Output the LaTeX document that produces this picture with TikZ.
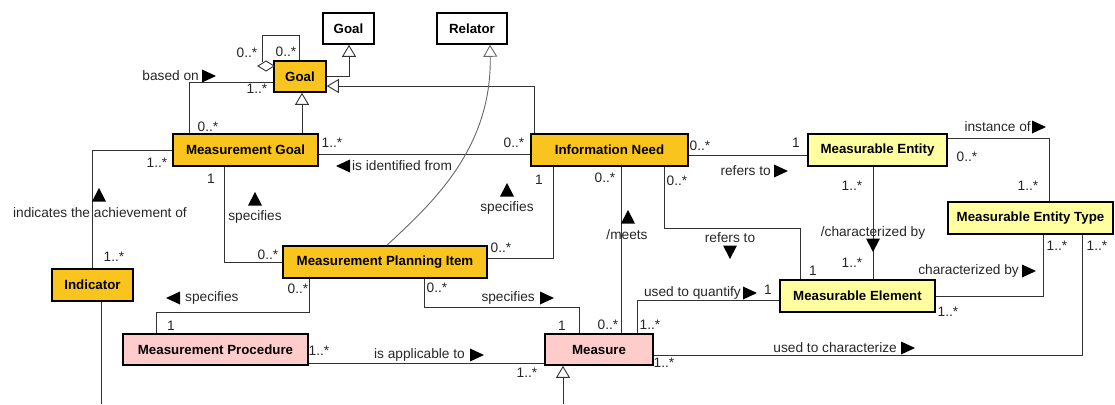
\documentclass[tikz,border=0pt]{standalone}
\usepackage{fontspec}
\setmainfont{Liberation Sans}
\usetikzlibrary{arrows.meta}
\definecolor{cOrange}{RGB}{250,196,30}
\definecolor{cYellow}{RGB}{255,255,160}
\definecolor{cPink}{RGB}{255,204,204}
\definecolor{cLine}{RGB}{51,51,51}
\tikzset{
 markR/.pic={\fill (-7,-6.5) -- (7,0) -- (-7,6.5) -- cycle;},
 markL/.pic={\fill (7,-6.5) -- (-7,0) -- (7,6.5) -- cycle;},
 markU/.pic={\fill (-7,6.5) -- (0,-7) -- (7,6.5) -- cycle;},
 markD/.pic={\fill (-7,-6.5) -- (0,7) -- (7,-6.5) -- cycle;},
}
\begin{document}
\begin{tikzpicture}[x=1pt,y=-1pt,
  cls/.style={draw=black, line width=1.6pt, font=\fontsize{13.3}{15}\selectfont\bfseries, inner sep=0pt, anchor=center},
  clsW/.style={cls, fill=white},
  clsO/.style={cls, fill=cOrange},
  clsY/.style={cls, fill=cYellow},
  clsP/.style={cls, fill=cPink},
  conn/.style={draw=cLine, line width=0.9pt},
  gen/.style={conn, -{Triangle[open,length=12pt,width=14pt]}},
  lbl/.style={font=\fontsize{13.7}{15}\selectfont, inner sep=0pt, text=black!85},
]
\useasboundingbox (0,0) rectangle (1115,404);

% classes
\node[clsW, minimum width=51pt, minimum height=31pt] (goalW) at (348.5,28.5) {Goal};
\node[clsW, minimum width=70pt, minimum height=31pt] (rel) at (472,28.5) {Relator};
\node[clsO, minimum width=52pt, minimum height=31pt] (goal) at (300,76.5) {Goal};
\node[clsO, minimum width=145pt, minimum height=32pt] (MG) at (245.5,150) {Measurement Goal};
\node[clsO, minimum width=157pt, minimum height=32pt] (IN) at (609.5,150) {Information Need};
\node[clsY, minimum width=139pt, minimum height=32pt] (MEnt) at (877.5,150) {Measurable Entity};
\node[clsY, minimum width=165pt, minimum height=32pt] (MET) at (1030.5,218) {Measurable Entity Type};
\node[clsO, minimum width=204pt, minimum height=32pt] (MPI) at (385,262) {Measurement Planning Item};
\node[clsO, minimum width=81pt, minimum height=32pt] (ind) at (92.5,285) {Indicator};
\node[clsP, minimum width=185pt, minimum height=31pt] (mproc) at (215.5,349.5) {Measurement Procedure};
\node[clsP, minimum width=108pt, minimum height=31pt] (meas) at (599,349.5) {Measure};
\node[clsY, minimum width=155pt, minimum height=32pt] (MEl) at (857.5,296) {Measurable Element};

\coordinate (indEnd) at (101,404);
\coordinate (measEnd) at (563,404);
\coordinate (dia) at (262,62);

% connectors
\draw[conn] (goal.north -| 299,0) |- (262,35) -- (dia);
\draw[conn, fill=white] (258,66) -- (266,61) -- (274,66) -- (266,71) -- cycle;
\draw[gen] (goal.east |- 0,76) -| (goalW.south -| 349,0);
\draw[gen] (MG.north -| 302,0) -- (goal.south -| 302,0);
\draw[gen] (IN.north -| 534,0) |- (goal.east |- 0,86);
\draw[conn] (MG.north -| 189,0) |- (goal.west |- 0,82);
\draw[conn] (MG.east |- 0,154) -- (IN.west |- 0,154);
\draw[conn] (MG.west) -| (ind.north);
\draw[conn] (ind.south -| 101,0) -- (indEnd);
\draw[conn] (MG.south -| 224,0) |- (MPI.west);
\draw[conn] (IN.south -| 553,0) |- (MPI.east |- 0,258);
\draw[conn, draw=black!60, -{Triangle[open,length=12pt,width=14pt]}] (MPI.north -| 387,0) .. controls (430,205) and (492,150) .. (rel.south -| 490,0);
\draw[conn] (IN.south -| 621,0) -- (meas.north -| 621,0);
\draw[conn] (IN.south -| 664,0) -- (664,228) -- (800,228) -- (MEl.north -| 800,0);
\draw[conn] (IN.east |- 0,155) -- (MEnt.west |- 0,155);
\draw[conn] (MEnt.south -| 873,0) -- (MEl.north -| 873,0);
\draw[conn] (MEnt.east |- 0,138) -| (MET.north -| 1049,0);
\draw[conn] (MEl.east) -| (MET.south -| 1043,0);
\draw[conn] (meas.east |- 0,355) -| (MET.south -| 1082,0);
\draw[conn] (meas.north -| 637,0) |- (MEl.west |- 0,300);
\draw[conn] (MPI.south -| 424,0) |- (579,307) -- (meas.north -| 579,0);
\draw[conn] (MPI.south -| 309,0) |- (156,312) -- (mproc.north -| 156,0);
\draw[conn] (mproc.east |- 0,363) -- (meas.west |- 0,363);
\draw[gen] (measEnd) -- (meas.south -| 563,0);

% labels
\node[lbl] (l1) at (247,53) {0..*};
\node[lbl] (l2) at (286,52) {0..*};
\node[lbl, anchor=east] (l3) at (199,76) {based on};
\pic at (209,76) {markR};
\node[lbl] (l4) at (257,89) {1..*};
\node[lbl] (l5) at (208,127) {0..*};
\node[lbl] (l6) at (332,143) {1..*};
\node[lbl] (l7) at (514,143) {0..*};
\pic at (343,166) {markL};
\node[lbl, anchor=west] (l8) at (352,166) {is identified from};
\node[lbl] (l9) at (157,163) {1..*};
\pic at (99,195) {markU};
\node[lbl] (l10) at (100,213) {indicates the achievement of};
\node[lbl] (l11) at (114,257) {1..*};
\node[lbl] (l12) at (211,179) {1};
\pic at (255,199) {markU};
\node[lbl] (l13) at (255,217) {specifies};
\node[lbl] (l14) at (268,255) {0..*};
\node[lbl] (l15) at (539,180) {1};
\pic at (507,190) {markU};
\node[lbl] (l16) at (507,208) {specifies};
\node[lbl] (l17) at (501,248) {0..*};
\node[lbl] (l18) at (605,178) {0..*};
\pic at (628,217) {markU};
\node[lbl] (l19) at (627,235) {/meets};
\node[lbl] (l20) at (608,325) {0..*};
\node[lbl] (l21) at (677,181) {0..*};
\node[lbl] (l22) at (730,238) {refers to};
\pic at (730,252) {markD};
\node[lbl] (l23) at (813,271) {1};
\node[lbl] (l24) at (700,146) {0..*};
\node[lbl] (l25) at (796,143) {1};
\node[lbl, anchor=east] (l26) at (771,171) {refers to};
\pic at (781,171) {markR};
\node[lbl] (l27) at (852,186) {1..*};
\node[lbl] (l28) at (873,233) {/characterized by};
\pic at (873,245) {markD};
\node[lbl] (l29) at (852,263) {1..*};
\node[lbl, anchor=east] (l30) at (1031,127) {instance of};
\pic at (1039,127) {markR};
\node[lbl] (l31) at (967,157) {0..*};
\node[lbl] (l32) at (1028,186) {1..*};
\node[lbl, anchor=east] (l33) at (1019,271) {characterized by};
\pic at (1029,271) {markR};
\node[lbl] (l34) at (1057,246) {1..*};
\node[lbl] (l35) at (948,312) {1..*};
\node[lbl, anchor=east] (l36) at (897,348) {used to characterize};
\pic at (908,348) {markR};
\node[lbl] (l37) at (1097,246) {1..*};
\node[lbl] (l38) at (664,363) {1..*};
\node[lbl, anchor=east] (l39) at (741,293) {used to quantify};
\pic at (750,293) {markR};
\node[lbl] (l40) at (768,290) {1};
\node[lbl] (l41) at (650,325) {1..*};
\node[lbl] (l42) at (437,288) {0..*};
\node[lbl, anchor=east] (l43) at (535,298) {specifies};
\pic at (547,298) {markR};
\node[lbl] (l44) at (562,326) {1};
\node[lbl] (l45) at (298,289) {0..*};
\pic at (173,298) {markL};
\node[lbl, anchor=west] (l46) at (185,298) {specifies};
\node[lbl] (l47) at (171,326) {1};
\node[lbl] (l48) at (319,351) {1..*};
\node[lbl, anchor=east] (l49) at (465,355) {is applicable to};
\pic at (477,355) {markR};
\node[lbl] (l50) at (527,373) {1..*};
\end{tikzpicture}
\end{document}
